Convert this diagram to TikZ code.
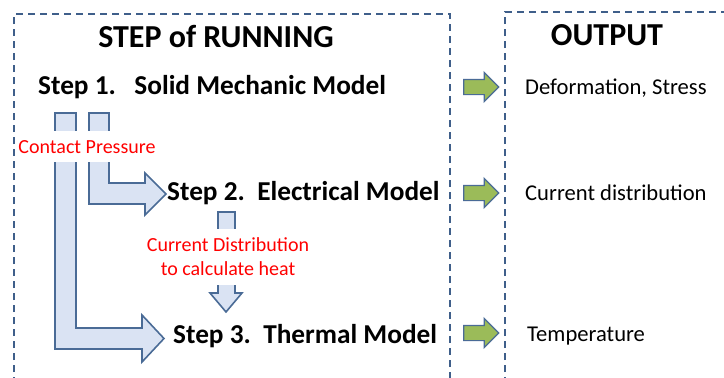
\documentclass[tikz,border=0pt]{standalone}
\usepackage{fontspec}
\setmainfont{Carlito}
\usetikzlibrary{shapes.arrows}
\definecolor{boxline}{HTML}{3F5F8A}
\definecolor{blockfill}{HTML}{DAE3F3}
\definecolor{blockline}{HTML}{4A6B96}
\definecolor{outgreen}{HTML}{9BBB59}
\tikzset{
  stepbox/.style={draw=boxline,line width=1.8pt,dash pattern=on 7pt off 5pt},
  block/.style={fill=blockfill,draw=blockline,line width=1.6pt,line join=miter},
  headtxt/.style={font=\bfseries\fontsize{32}{35}\selectfont,inner sep=0pt},
  steptxt/.style={font=\bfseries\fontsize{27.3}{30}\selectfont,inner sep=0pt,anchor=base west},
  outtxt/.style={font=\fontsize{22.6}{26}\selectfont,inner sep=0pt,anchor=base west},
  redtxt/.style={font=\fontsize{20}{24}\selectfont,text=red,fill=white,inner xsep=2pt,inner ysep=9pt,align=center},
  garrow/.style={single arrow,draw=blockline,fill=outgreen,line width=1.2pt,minimum height=35pt,
    inner xsep=0pt,inner ysep=7pt,single arrow head extend=7pt}}
\begin{document}
\begin{tikzpicture}[x=1pt,y=-1pt]
  \useasboundingbox (0,0) rectangle (724,378);
  \clip (0,0) rectangle (724,378);
  \draw[stepbox](14,420)--(14,14)--(450,14)--(450,420);
  \draw[stepbox](505,420)--(505,12)--(760,12);
  \node[headtxt,anchor=base] (runhead) at (216,47) {STEP of RUNNING};
  \node[headtxt,anchor=base] (outhead) at (607,45) {OUTPUT};
  \draw[block](55,113)--(55,349)--(142,349)--(142,362)--(164,338.5)--(142,315)--(142,328)--(76,328)--(76,113)--cycle;
  \draw[block](89,113)--(89,204)--(145,204)--(145,215)--(166,194)--(145,173)--(145,183)--(109,183)--(109,113)--cycle;
  \draw[block](218,212)--(218,293)--(210,293)--(226,312)--(242,293)--(235,293)--(235,212)--cycle;
  \node[redtxt,anchor=base] (cp) at (87,153) {Contact Pressure};
  \node[redtxt] (cd) at (228,257) {Current Distribution\\to calculate heat};
  \node[steptxt] (step1) at (38,94) {Step 1.\ \ \ Solid Mechanic Model};
  \node[steptxt] (step2) at (167,200) {Step 2.\ \ Electrical Model};
  \node[steptxt] (step3) at (173,343) {Step 3.\ \ Thermal Model};
  \foreach \y/\n in {87/1,193/2,333/3}
    \node[garrow] (ga\n) at (477.5,\y) {};
  \node[outtxt] (out1) at (525,94) {Deformation, Stress};
  \node[outtxt] (out2) at (525,200) {Current distribution};
  \node[outtxt] (out3) at (527,341) {Temperature};
\end{tikzpicture}
\end{document}
